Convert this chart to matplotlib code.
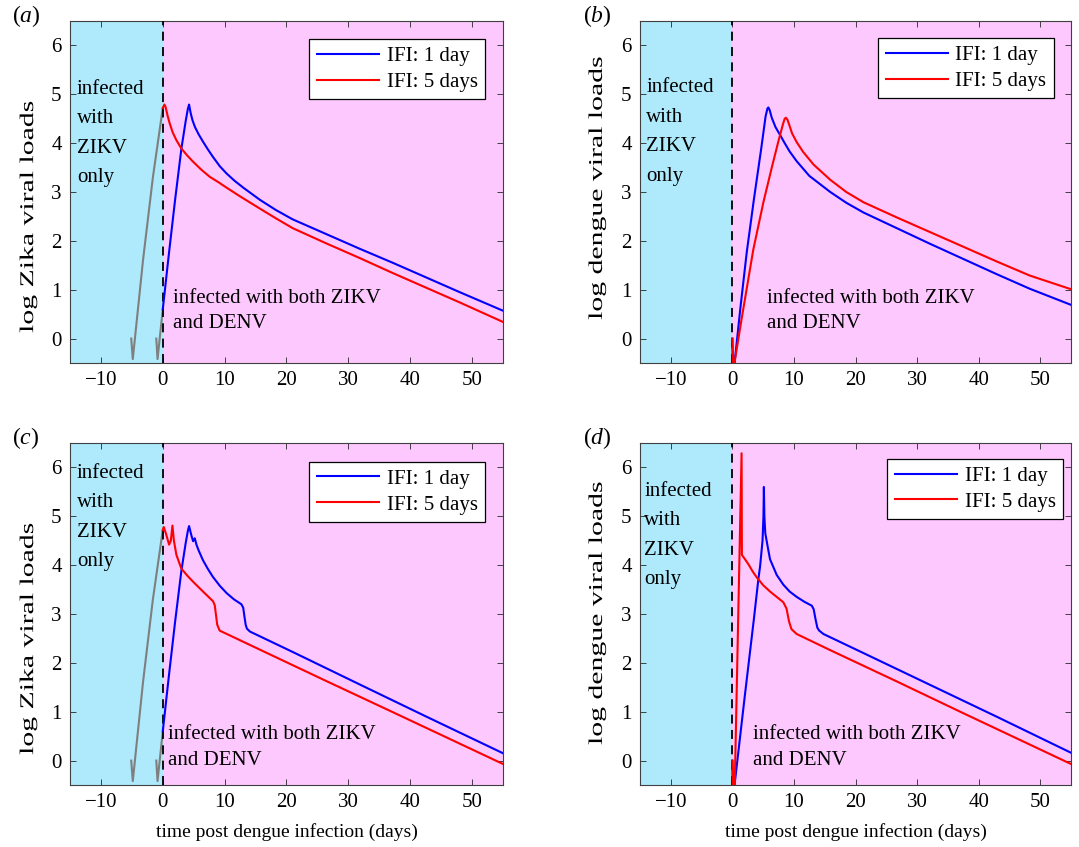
import matplotlib
matplotlib.use('Agg')
import matplotlib.pyplot as plt
from matplotlib.patheffects import AbstractPathEffect
from matplotlib.transforms import Affine2D

plt.rcParams['font.family'] = ['Liberation Serif', 'DejaVu Serif']
plt.rcParams['mathtext.fontset'] = 'custom'
plt.rcParams['mathtext.rm'] = 'Liberation Serif'
plt.rcParams['mathtext.it'] = 'Liberation Serif:italic'
plt.rcParams['font.size'] = 15

# --- Zika-only phase before dengue infection (grey) ---
grey5_t = [-5.1, -4.85, -3.2, -1.6, 0.0]
grey5_v = [0.0, -0.42, 1.6, 3.3, 4.72]
grey1_t = [-1.05, -0.85, 0.0]
grey1_v = [0.0, -0.42, 0.6]

# --- (a) Zika load, no interaction ---
a_blue_t = [0, 1, 2, 3, 3.7, 4.05, 4.25, 4.5, 4.8, 5.2, 5.8, 6.5, 7.3, 8.1, 9.2,
            10.3, 11.6, 13.0, 15.7, 18.3, 21.0, 26.4, 31.8, 37.2, 42.6, 48.0, 55.0]
a_blue_v = [0.6, 1.75, 2.85, 3.88, 4.45, 4.7, 4.79, 4.62, 4.47, 4.33, 4.18, 4.03,
            3.87, 3.72, 3.53, 3.38, 3.23, 3.09, 2.84, 2.63, 2.44, 2.14, 1.84, 1.55,
            1.25, 0.95, 0.57]
a_red_t = [0, 0.27, 0.45, 0.8, 1.13, 1.6, 2.2, 3.0, 4.0, 4.9, 6.2, 7.6, 9.0, 10.3,
           12.5, 15.7, 18.3, 21.0, 26.4, 31.8, 37.2, 42.6, 48.0, 55.0]
a_red_v = [4.72, 4.79, 4.74, 4.55, 4.4, 4.22, 4.06, 3.89, 3.74, 3.62, 3.46, 3.31,
           3.2, 3.09, 2.91, 2.66, 2.46, 2.26, 1.95, 1.65, 1.34, 1.04, 0.74, 0.34]

# --- (b) dengue load, no interaction ---
b_blue_t = [0, 0.15, 0.4, 1.3, 2.33, 3.5, 4.7, 5.4, 5.7, 5.85, 6.05, 6.4, 7.0,
            7.74, 8.5, 9.3, 10.45, 12.5, 15.9, 18.5, 21.3, 26.7, 32.1, 37.5, 42.9,
            48.3, 55.0]
b_blue_v = [0.0, -0.9, -0.45, 0.62, 1.76, 2.85, 3.9, 4.55, 4.71, 4.73, 4.68, 4.52,
            4.33, 4.17, 4.0, 3.83, 3.63, 3.33, 3.0, 2.78, 2.58, 2.26, 1.94, 1.63,
            1.32, 1.02, 0.69]
b_red_t = [0, 0.15, 0.4, 1.5, 3.4, 5.04, 6.5, 7.5, 8.2, 8.5, 8.7, 8.95, 9.3, 9.7,
           10.45, 11.5, 13.2, 15.9, 18.5, 21.3, 26.7, 32.1, 37.5, 42.9, 48.3, 55.0]
b_red_v = [0.0, -0.9, -0.45, 0.4, 1.82, 2.79, 3.55, 4.05, 4.38, 4.5, 4.52, 4.48,
           4.35, 4.2, 4.02, 3.82, 3.56, 3.25, 3.0, 2.79, 2.48, 2.18, 1.88, 1.58,
           1.29, 1.01]

# --- (c) Zika load with interaction ---
c_blue_t = [0, 1, 2, 3, 3.7, 4.05, 4.25, 4.6, 4.9, 5.17, 5.44, 5.8, 6.5, 7.3, 8.1,
            9.2, 10.3, 11.5, 12.7, 13.0, 13.2, 13.4, 13.6, 14.1, 21.05, 31.8, 42.6,
            55.0]
c_blue_v = [0.6, 1.75, 2.85, 3.88, 4.45, 4.7, 4.80, 4.62, 4.49, 4.55, 4.42, 4.3,
            4.1, 3.92, 3.76, 3.58, 3.43, 3.30, 3.2, 3.13, 2.95, 2.78, 2.70, 2.64,
            2.22, 1.56, 0.90, 0.15]
c_red_t = [0, 0.16, 0.5, 1.02, 1.3, 1.56, 1.8, 2.2, 3.0, 4.0, 4.9, 6.5, 8.13, 8.4,
           8.6, 8.8, 9.2, 15.7, 26.4, 37.2, 55.0]
c_red_v = [4.72, 4.78, 4.65, 4.42, 4.5, 4.81, 4.5, 4.21, 3.93, 3.78, 3.66, 3.46,
           3.26, 3.18, 2.98, 2.78, 2.66, 2.27, 1.63, 0.99, -0.07]

# --- (d) dengue load with interaction ---
d_blue_t = [0, 0.15, 0.4, 2.0, 3.5, 4.24, 4.5, 4.9, 5.05, 5.12, 5.2, 5.35, 5.85,
            6.12, 7.2, 8.28, 9.3, 10.45, 11.7, 12.9, 13.2, 13.5, 13.8, 14.1, 14.8,
            21.3, 32.1, 42.9, 55.0]
d_blue_v = [0.0, -0.9, -0.45, 1.3, 2.9, 3.73, 3.97, 4.5, 5.0, 5.6, 5.0, 4.65, 4.3,
            4.12, 3.8, 3.6, 3.46, 3.35, 3.25, 3.17, 3.1, 2.9, 2.72, 2.66, 2.59,
            2.2, 1.55, 0.9, 0.16]
d_red_t = [0, 0.15, 0.4, 1.5, 1.55, 2.0, 2.6, 3.3, 3.96, 5.0, 6.12, 7.2, 8.28,
           8.8, 9.2, 9.6, 10.45, 15.9, 26.7, 37.5, 55.0]
d_red_v = [0.0, -0.9, -0.45, 6.29, 4.21, 4.13, 4.02, 3.87, 3.75, 3.59, 3.46, 3.35,
           3.24, 3.11, 2.85, 2.69, 2.59, 2.26, 1.62, 0.97, -0.07]

x_ticks = [-10, 0, 10, 20, 30, 40, 50]
y_ticks = [0, 1, 2, 3, 4, 5, 6]

W, H = 1079, 847
fig = plt.figure(figsize=(W / 100, H / 100), dpi=100)


class StretchText(AbstractPathEffect):
    """Widen glyph outlines along the baseline."""

    def __init__(self, sx):
        super().__init__()
        self.sx = sx

    def draw_path(self, renderer, gc, tpath, affine, rgbFace=None):
        renderer.draw_path(gc, tpath, Affine2D().scale(self.sx, 1.0) + affine,
                           rgbFace)


def panel(rect, blue, red, grey, ylabel, ylab_xy, tag, tag_xy,
          left_txt, low_txt, leg_anchor, xlabel=None):
    l, t, r, b = rect
    ax = fig.add_axes([l / W, 1 - b / H, (r - l) / W, (b - t) / H])
    ax.axvspan(-15, 0, color='#aeeafb', lw=0, zorder=0)
    ax.axvspan(0, 55, color='#fdc8fd', lw=0, zorder=0)
    if grey:
        ax.plot(grey5_t, grey5_v, color='#7f7f7f', lw=1.5, zorder=2)
        ax.plot(grey1_t, grey1_v, color='#7f7f7f', lw=1.5, zorder=2)
    ax.axvline(0, color='k', lw=1.3, ls=(0, (5, 3.5)), zorder=3)
    ax.plot(blue[0], blue[1], color='b', lw=1.5, label='IFI: 1 day', zorder=4)
    ax.plot(red[0], red[1], color='r', lw=1.5, label='IFI: 5 days', zorder=4)

    ax.set_xlim(-15, 55)
    ax.set_ylim(-0.5, 6.5)
    ax.set_xticks(x_ticks)
    ax.set_yticks(y_ticks)
    ax.tick_params(direction='in', length=4, width=0.6, top=True, right=True,
                   labelsize=15, pad=6, colors='#262626', labelcolor='k')
    for s in ax.spines.values():
        s.set_linewidth(0.8)
        s.set_color('#404040')

    # y label: starts at the bottom anchor and is drawn widened
    ax.text(ylab_xy[0], ylab_xy[1], ylabel, transform=ax.transAxes,
            rotation=90, rotation_mode='anchor', ha='left', va='bottom',
            fontsize=14, path_effects=[StretchText(1.53)])
    if xlabel:
        ax.set_xlabel(xlabel, fontsize=14, labelpad=8)

    ax.text(left_txt[0], left_txt[1], 'infected\nwith\nZIKV\nonly',
            ha='left', va='top', linespacing=1.75, fontsize=15, zorder=5)
    ax.text(low_txt[0], low_txt[1], 'infected with both ZIKV\nand DENV',
            ha='left', va='top', linespacing=1.45, fontsize=15, zorder=5)

    leg = ax.legend(loc='upper right', bbox_to_anchor=leg_anchor,
                    borderaxespad=0, fancybox=False, framealpha=1,
                    edgecolor='k', fontsize=15, handlelength=3.0,
                    handletextpad=0.35, borderpad=0.35, labelspacing=0.3)
    leg.get_frame().set_linewidth(0.9)

    fig.text(tag_xy[0] / W, 1 - tag_xy[1] / H, r'$(\mathit{' + tag + '})$',
             fontsize=17, ha='left', va='center')
    return ax


panel((70, 21, 503, 363), (a_blue_t, a_blue_v), (a_red_t, a_red_v), True,
      'log Zika viral loads', (-0.076, 0.088), 'a', (12, 16),
      (-13.9, 5.3), (1.6, 1.02), (0.958, 0.947))
panel((640, 21, 1071, 363), (b_blue_t, b_blue_v), (b_red_t, b_red_v), False,
      'log dengue viral loads', (-0.079, 0.126), 'b', (583, 16),
      (-14.0, 5.33), (5.6, 1.02), (0.96, 0.95))
panel((70, 443, 503, 785), (c_blue_t, c_blue_v), (c_red_t, c_red_v), True,
      'log Zika viral loads', (-0.076, 0.088), 'c', (12, 438),
      (-13.9, 6.08), (0.9, 0.72), (0.958, 0.945),
      xlabel='time post dengue infection (days)')
panel((640, 443, 1071, 785), (d_blue_t, d_blue_v), (d_red_t, d_red_v), False,
      'log dengue viral loads', (-0.079, 0.117), 'd', (583, 438),
      (-14.3, 5.71), (3.3, 0.72), (0.981, 0.953),
      xlabel='time post dengue infection (days)')

fig.savefig('out.png', dpi=100)
